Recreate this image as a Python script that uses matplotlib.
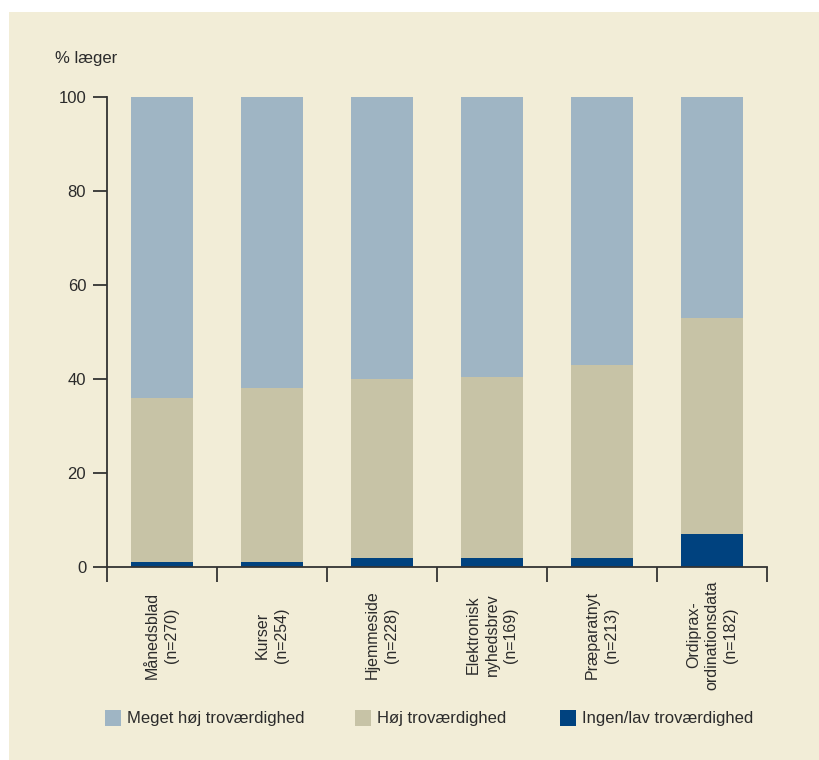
import matplotlib
matplotlib.use("Agg")
import matplotlib.pyplot as plt
from matplotlib import font_manager
from matplotlib.patches import Rectangle
import numpy as np

# data (% læger)
kilder = ["Månedsblad\n(n=270)", "Kurser\n(n=254)", "Hjemmeside\n(n=228)",
          "Elektronisk\nnyhedsbrev\n(n=169)", "Præparatnyt\n(n=213)",
          "Ordiprax-\nordinationsdata\n(n=182)"]
ingen_lav = [1, 1, 2, 2, 2, 7]
hoej = [35, 37, 38, 38.5, 41, 46]
meget_hoej = [64, 62, 60, 59.5, 57, 47]
serier = ["Meget høj troværdighed", "Høj troværdighed", "Ingen/lav troværdighed"]
farver = ["#9fb5c4", "#c7c3a6", "#00427f"]
creme = "#f2edd7"
tekst = "#2b2b2b"

navne = {f.name for f in font_manager.fontManager.ttflist}
smal = "Liberation Sans Narrow" if "Liberation Sans Narrow" in navne else "Liberation Sans"
plt.rcParams["font.family"] = ["Liberation Sans", "DejaVu Sans"]

fig = plt.figure(figsize=(8.2, 7.6), dpi=100, facecolor=creme)
# hvid kant foroven og til venstre
fig.patches.append(Rectangle((0, 1 - 12 / 760), 1, 12 / 760,
                             transform=fig.transFigure, facecolor="white",
                             edgecolor="none", zorder=-5))
fig.patches.append(Rectangle((0, 0), 9 / 820, 1,
                             transform=fig.transFigure, facecolor="white",
                             edgecolor="none", zorder=-5))

ax = fig.add_axes([107 / 820, 1 - 567 / 760, 660 / 820, 470 / 760])
ax.set_facecolor("none")
ax.set_zorder(2)
x = np.arange(len(kilder))
b = 0.56
ax.bar(x, ingen_lav, b, color=farver[2], zorder=2)
ax.bar(x, hoej, b, bottom=ingen_lav, color=farver[1], zorder=2)
ax.bar(x, meget_hoej, b, bottom=np.array(ingen_lav) + np.array(hoej),
       color=farver[0], zorder=2)

ax.set_xlim(-0.5, len(kilder) - 0.5)
ax.set_ylim(0, 100)
for s in ["top", "right"]:
    ax.spines[s].set_visible(False)
for s in ["left", "bottom"]:
    ax.spines[s].set_color("#333333")
    ax.spines[s].set_linewidth(1.3)

ax.set_yticks([0, 20, 40, 60, 80, 100])
ax.tick_params(axis="y", length=10, width=1.3, color="#333333",
               labelsize=12, labelcolor=tekst, pad=5)

# skillelinjer mellem kategorierne som store ticks, navne som små ticks
ax.set_xticks(np.arange(-0.5, len(kilder)), labels=[""] * (len(kilder) + 1))
ax.tick_params(axis="x", which="major", length=11, width=1.3, color="#333333")
ax.set_xticks(x, minor=True)
ax.set_xticklabels(kilder, minor=True, rotation=90, ha="center", va="center",
                   multialignment="center", fontsize=11.5, color=tekst,
                   linespacing=1.3)
ax.tick_params(axis="x", which="minor", length=0, pad=49)

fig.text(55 / 820, 1 - 58 / 760, "% læger", fontsize=12, color=tekst,
         va="center", ha="left")

# forklaring
for xs, xt, navn, f in zip([105, 355, 560], [127, 377, 582], serier, farver):
    fig.patches.append(Rectangle((xs / 820, 1 - 726 / 760), 16 / 820, 16 / 760,
                                 transform=fig.transFigure, facecolor=f,
                                 edgecolor="none"))
    fig.text(xt / 820, 1 - 718 / 760, navn, fontsize=12, family=smal,
             color=tekst, va="center", ha="left")

fig.savefig("out.png", dpi=100, facecolor=creme)
